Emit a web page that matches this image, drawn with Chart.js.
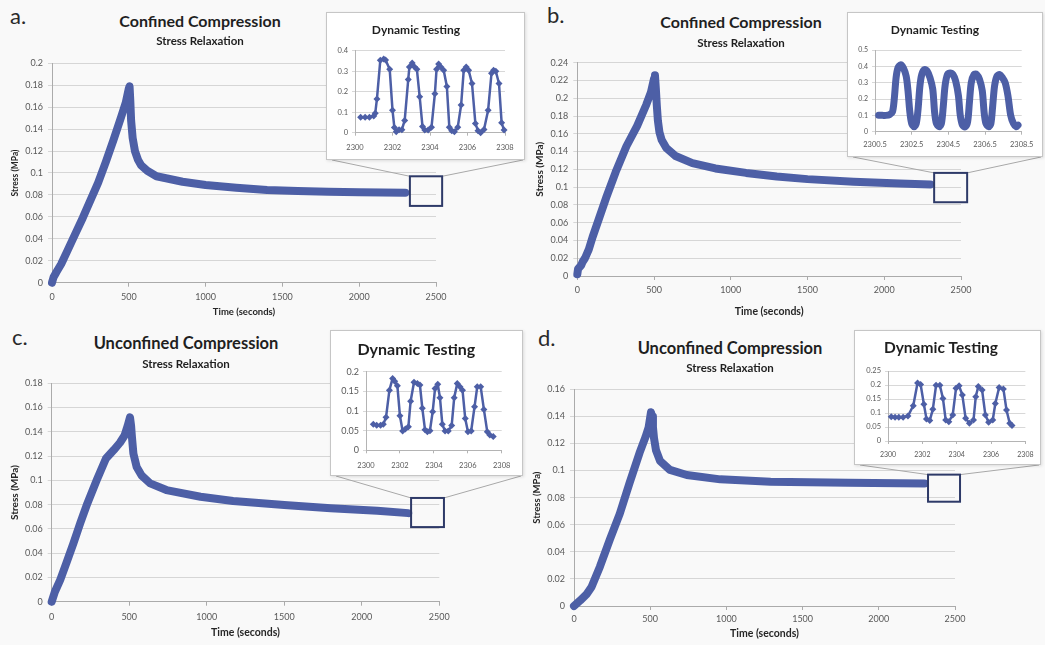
<!DOCTYPE html>
<html lang="en">
<head>
<meta charset="UTF-8">
<title>Confined / Unconfined Compression - Stress Relaxation and Dynamic Testing</title>
<script src="https://cdn.jsdelivr.net/npm/chart.js@4"></script>
<style>
  * { margin: 0; padding: 0; box-sizing: border-box; }
  body { width: 1045px; height: 645px; position: relative; overflow: hidden; background: #f9f9f9;
         font-family: Lato, 'Open Sans', sans-serif; }
  canvas { position: absolute; }
  .inset { position: absolute; background: #fff; border: 1px solid #c6c6c6; box-shadow: 1px 1px 3px rgba(0,0,0,0.12); }
  .txt { position: absolute; line-height: 1; white-space: nowrap; color: #1f1f1f; font-weight: 700; transform: translateX(-50%); }
  .letter { position: absolute; line-height: 1; font-size: 22px; color: #2a2a2a; }
</style>
</head>
<body>
<div class="letter" style="left:10px;top:4.5px">a.</div>
<div class="letter" style="left:547px;top:4px">b.</div>
<div class="letter" style="left:12px;top:325.5px">c.</div>
<div class="letter" style="left:538px;top:326.5px">d.</div>

<div class="txt" style="left:200px;top:12.5px;font-size:16px">Confined Compression</div>
<div class="txt" style="left:200px;top:34.8px;font-size:11.5px">Stress Relaxation</div>
<div class="txt" style="left:741px;top:14px;font-size:16px">Confined Compression</div>
<div class="txt" style="left:741px;top:36.5px;font-size:11.5px">Stress Relaxation</div>
<div class="txt" style="left:186px;top:334.7px;font-size:16.5px">Unconfined Compression</div>
<div class="txt" style="left:186px;top:357.5px;font-size:11.5px">Stress Relaxation</div>
<div class="txt" style="left:730px;top:340.4px;font-size:16.5px">Unconfined Compression</div>
<div class="txt" style="left:730px;top:362px;font-size:11.5px">Stress Relaxation</div>

<script>
// ---- stress relaxation (time in s, stress in MPa) ----
const timeA = [0, 10, 30, 60, 100, 150, 200, 250, 300, 350, 400, 450, 480, 500, 505, 510, 515, 525, 540, 560, 580, 620, 680, 750, 850, 1000, 1200, 1400, 1600, 1800, 2000, 2300];
const stressA = [0, 0.005, 0.010, 0.017, 0.029, 0.044, 0.059, 0.075, 0.091, 0.110, 0.130, 0.151, 0.164, 0.177, 0.179, 0.165, 0.148, 0.132, 0.120, 0.112, 0.107, 0.102, 0.097, 0.095, 0.092, 0.089, 0.0865, 0.0845, 0.0835, 0.083, 0.0825, 0.082];

const timeB = [0, 5, 15, 25, 35, 50, 75, 100, 140, 190, 250, 320, 390, 450, 480, 500, 506, 512, 518, 525, 535, 550, 580, 640, 750, 900, 1100, 1300, 1500, 1800, 2100, 2300];
const stressB = [0.002, 0.008, 0.010, 0.012, 0.016, 0.020, 0.030, 0.044, 0.064, 0.089, 0.117, 0.146, 0.169, 0.193, 0.207, 0.222, 0.226, 0.210, 0.192, 0.175, 0.162, 0.153, 0.144, 0.135, 0.127, 0.121, 0.116, 0.112, 0.109, 0.106, 0.104, 0.103];

const timeC = [0, 20, 55, 95, 140, 185, 230, 290, 350, 400, 440, 470, 490, 505, 512, 518, 527, 548, 580, 635, 740, 960, 1170, 1500, 1800, 2100, 2300];
const stressC = [0, 0.008, 0.018, 0.032, 0.048, 0.065, 0.081, 0.100, 0.118, 0.125, 0.131, 0.137, 0.145, 0.152, 0.145, 0.135, 0.122, 0.111, 0.104, 0.0975, 0.092, 0.0865, 0.083, 0.0797, 0.077, 0.075, 0.073];

const timeD = [0, 40, 85, 115, 170, 235, 300, 365, 430, 470, 490, 505, 512, 518, 525, 538, 565, 630, 740, 960, 1290, 1800, 2300];
const stressD = [0, 0.004, 0.009, 0.014, 0.029, 0.049, 0.068, 0.091, 0.113, 0.125, 0.132, 0.143, 0.140, 0.132, 0.124, 0.115, 0.107, 0.1005, 0.0967, 0.0935, 0.0918, 0.091, 0.0905];

// ---- dynamic testing insets ----
const dynTimeA = [2300.3, 2300.54, 2300.77, 2301.0, 2301.08, 2301.17, 2301.35, 2301.53, 2301.63, 2301.85, 2302.0, 2302.1, 2302.2, 2302.35, 2302.5, 2302.65, 2302.84, 2302.9, 2303.05, 2303.18, 2303.3, 2303.45, 2303.6, 2303.72, 2303.9, 2304.08, 2304.26, 2304.35, 2304.46, 2304.58, 2304.73, 2304.9, 2305.03, 2305.16, 2305.3, 2305.48, 2305.66, 2305.8, 2305.93, 2306.06, 2306.24, 2306.42, 2306.56, 2306.7, 2306.88, 2307.1, 2307.28, 2307.39, 2307.51, 2307.68, 2307.82, 2307.95];
const dynStressA = [0.075, 0.075, 0.075, 0.082, 0.095, 0.165, 0.354, 0.36, 0.355, 0.31, 0.11, 0.025, 0.005, 0.015, 0.015, 0.06, 0.26, 0.32, 0.34, 0.32, 0.31, 0.175, 0.03, 0.013, 0.013, 0.027, 0.19, 0.31, 0.335, 0.32, 0.305, 0.225, 0.027, 0.01, 0.005, 0.027, 0.135, 0.305, 0.32, 0.305, 0.24, 0.045, 0.01, 0.0, 0.016, 0.11, 0.29, 0.305, 0.3, 0.24, 0.048, 0.013];

const dynTimeB = [2300.7, 2300.9, 2301.1, 2301.3, 2301.45, 2301.55, 2301.65, 2301.75, 2301.9, 2302.05, 2302.2, 2302.3, 2302.4, 2302.5, 2302.63, 2302.75, 2302.85, 2302.95, 2303.05, 2303.2, 2303.35, 2303.5, 2303.65, 2303.75, 2303.85, 2304.0, 2304.12, 2304.22, 2304.32, 2304.45, 2304.6, 2304.75, 2304.9, 2305.05, 2305.15, 2305.27, 2305.42, 2305.55, 2305.65, 2305.75, 2305.9, 2306.05, 2306.2, 2306.35, 2306.45, 2306.55, 2306.7, 2306.82, 2306.92, 2307.02, 2307.15, 2307.3, 2307.45, 2307.6, 2307.75, 2307.9, 2308.05, 2308.2, 2308.3];
const dynStressB = [0.10, 0.10, 0.10, 0.105, 0.12, 0.2, 0.33, 0.39, 0.41, 0.39, 0.34, 0.25, 0.12, 0.05, 0.03, 0.05, 0.14, 0.28, 0.35, 0.38, 0.37, 0.33, 0.26, 0.12, 0.05, 0.03, 0.05, 0.15, 0.28, 0.35, 0.36, 0.35, 0.31, 0.22, 0.1, 0.04, 0.03, 0.06, 0.18, 0.3, 0.35, 0.35, 0.32, 0.25, 0.12, 0.05, 0.03, 0.05, 0.16, 0.28, 0.34, 0.35, 0.33, 0.3, 0.22, 0.1, 0.05, 0.03, 0.04];

const dynTimeC = [2300.43, 2300.63, 2300.86, 2301.02, 2301.18, 2301.38, 2301.57, 2301.69, 2301.85, 2302.0, 2302.16, 2302.32, 2302.5, 2302.63, 2302.83, 2303.03, 2303.18, 2303.32, 2303.48, 2303.62, 2303.77, 2303.93, 2304.07, 2304.23, 2304.36, 2304.5, 2304.66, 2304.85, 2305.05, 2305.2, 2305.38, 2305.54, 2305.69, 2305.85, 2306.01, 2306.2, 2306.4, 2306.56, 2306.76, 2306.95, 2307.15, 2307.3, 2307.5];
const dynStressC = [0.066, 0.064, 0.064, 0.066, 0.084, 0.153, 0.183, 0.176, 0.164, 0.088, 0.049, 0.054, 0.06, 0.125, 0.173, 0.17, 0.166, 0.107, 0.052, 0.047, 0.05, 0.098, 0.157, 0.168, 0.134, 0.066, 0.049, 0.049, 0.063, 0.134, 0.17, 0.162, 0.153, 0.081, 0.047, 0.049, 0.111, 0.162, 0.162, 0.104, 0.047, 0.039, 0.035];

const dynTimeD = [2300.19, 2300.41, 2300.63, 2300.88, 2301.16, 2301.47, 2301.72, 2301.9, 2302.09, 2302.24, 2302.43, 2302.61, 2302.8, 2303.02, 2303.2, 2303.36, 2303.54, 2303.77, 2303.96, 2304.14, 2304.33, 2304.52, 2304.74, 2304.98, 2305.11, 2305.26, 2305.48, 2305.67, 2305.86, 2306.1, 2306.25, 2306.47, 2306.72, 2306.9, 2307.09, 2307.22];
const dynStressD = [0.087, 0.085, 0.085, 0.085, 0.089, 0.126, 0.207, 0.202, 0.131, 0.079, 0.073, 0.113, 0.199, 0.199, 0.152, 0.075, 0.069, 0.093, 0.188, 0.197, 0.164, 0.081, 0.063, 0.075, 0.158, 0.195, 0.182, 0.093, 0.067, 0.075, 0.134, 0.191, 0.186, 0.111, 0.063, 0.055];

// ---- layout (page pixels) ----
const panels = [
  { time: timeA, stress: stressA, yMax: 0.2,
    canvas: { x: 0, y: 45, w: 530, h: 278 }, area: { l: 52, t: 63.3, r: 436, b: 282.7 },
    xTickY: 296, xTitleY: 312, xTitle: 9.5, yTitleX: 15, yTitle: 8.5,
    zoom: { t0: 2330, t1: 2540, s0: 0.070, s1: 0.097, inset: 'insetA' } },
  { time: timeB, stress: stressB, yMax: 0.24,
    canvas: { x: 522, y: 45, w: 523, h: 278 }, area: { l: 577.3, t: 62.7, r: 961, b: 276 },
    xTickY: 289.3, xTitleY: 311.7, xTitle: 10.5, yTitleX: 540, yTitle: 10,
    zoom: { t0: 2325, t1: 2540, s0: 0.083, s1: 0.116, inset: 'insetB' } },
  { time: timeC, stress: stressC, yMax: 0.18,
    canvas: { x: 0, y: 365, w: 530, h: 280 }, area: { l: 51.7, t: 383.3, r: 439.3, b: 601.7 },
    xTickY: 616, xTitleY: 633, xTitle: 10.5, yTitleX: 15, yTitle: 10,
    zoom: { t0: 2318, t1: 2530, s0: 0.0615, s1: 0.0855, inset: 'insetC' } },
  { time: timeD, stress: stressD, yMax: 0.16,
    canvas: { x: 522, y: 365, w: 523, h: 280 }, area: { l: 574, t: 389.3, r: 955, b: 606 },
    xTickY: 618, xTitleY: 634, xTitle: 10.5, yTitleX: 537, yTitle: 9.5,
    zoom: { t0: 2323, t1: 2533, s0: 0.077, s1: 0.097, inset: 'insetD' } }
];

const insets = [
  { id: 'insetA', time: dynTimeA, stress: dynStressA, xMin: 2300, xMax: 2308, yMax: 0.4, yStep: 0.1, thick: false,
    box: { x: 326, y: 12, w: 199, h: 148 }, area: { l: 355, t: 50.7, r: 505, b: 132.7 },
    titleY: 30, titleSize: 12, xTickY: 146.7, xFont: 7.5, yFont: 7.5 },
  { id: 'insetB', time: dynTimeB, stress: dynStressB, xMin: 2300.5, xMax: 2308.5, yMax: 0.5, yStep: 0.1, thick: true,
    box: { x: 847, y: 12, w: 196, h: 145 }, area: { l: 875, t: 50, r: 1021.7, b: 131.7 },
    titleY: 30, titleSize: 12, xTickY: 144, xFont: 7.5, yFont: 7 },
  { id: 'insetC', time: dynTimeC, stress: dynStressC, xMin: 2300, xMax: 2308, yMax: 0.2, yStep: 0.05, thick: false,
    box: { x: 330, y: 330, w: 193, h: 146 }, area: { l: 366, t: 371.7, r: 501.7, b: 450.3 },
    titleY: 350, titleSize: 16, xTickY: 465, xFont: 7.5, yFont: 9 },
  { id: 'insetD', time: dynTimeD, stress: dynStressD, xMin: 2300, xMax: 2308, yMax: 0.25, yStep: 0.05, thick: false,
    box: { x: 854, y: 330, w: 187, h: 135 }, area: { l: 888, t: 371, r: 1027, b: 441 },
    titleY: 348, titleSize: 15.5, xTickY: 454, xFont: 7, yFont: 7.5 }
];

const BLUE = '#4d5fa6';
Chart.defaults.font.family = "Lato, 'Open Sans', sans-serif";
Chart.defaults.color = '#595959';

const pts = (xs, ys) => xs.map((x, i) => ({ x, y: ys[i] }));
const fmt = v => String(+v.toFixed(3));

// zoom window on the main chart plus the callout lines to its inset
const zoomBox = {
  id: 'zoomBox',
  afterDraw(chart, args, o) {
    const { x, y } = chart.scales;
    const ctx = chart.ctx;
    const l = x.getPixelForValue(o.t0), r = x.getPixelForValue(o.t1);
    const t = y.getPixelForValue(o.s1), b = y.getPixelForValue(o.s0);
    const cr = chart.canvas.getBoundingClientRect();
    const ir = document.getElementById(o.inset).getBoundingClientRect();
    ctx.save();
    ctx.strokeStyle = '#a8a8a8';
    ctx.lineWidth = 1;
    ctx.beginPath();
    ctx.moveTo(ir.left - cr.left + 6, ir.bottom - cr.top);
    ctx.lineTo(l, t);
    ctx.moveTo(ir.right - cr.left - 2, ir.bottom - cr.top);
    ctx.lineTo(r, t);
    ctx.stroke();
    ctx.strokeStyle = '#2e3a68';
    ctx.lineWidth = 2;
    ctx.strokeRect(l, t, r - l, b - t);
    ctx.restore();
  }
};

function makeInset(p) {
  const box = document.createElement('div');
  box.className = 'inset';
  box.id = p.id;
  box.style.cssText = `left:${p.box.x}px;top:${p.box.y}px;width:${p.box.w}px;height:${p.box.h}px;`;
  document.body.appendChild(box);

  const cx = p.box.x + 1, cy = p.box.y + 1, cw = p.box.w - 2, ch = p.box.h - 2;
  const cv = document.createElement('canvas');
  cv.width = cw; cv.height = ch;
  cv.style.cssText = 'left:0;top:0;';
  box.appendChild(cv);

  const lh = p.titleSize * 1.2;
  const padTop = p.titleY - cy - lh / 2;
  const a = p.area;

  new Chart(cv, {
    type: 'line',
    data: {
      datasets: [{
        data: pts(p.time, p.stress),
        borderColor: BLUE, backgroundColor: BLUE,
        borderWidth: p.thick ? 7 : 2.5,
        tension: p.thick ? 0.3 : 0,
        borderJoinStyle: 'round', borderCapStyle: 'round',
        pointStyle: 'rectRot', pointRadius: p.thick ? 0 : 3.5, pointBorderWidth: 0,
        clip: 6
      }]
    },
    options: {
      responsive: false, animation: false, devicePixelRatio: 1,
      layout: { padding: { left: 0, top: 0, right: cx + cw - a.r, bottom: 0 } },
      plugins: {
        legend: { display: false }, tooltip: { enabled: false },
        title: { display: true, text: 'Dynamic Testing', color: '#1f1f1f',
                 font: { size: p.titleSize, weight: 'bold' },
                 padding: { top: padTop, bottom: a.t - cy - padTop - lh } }
      },
      scales: {
        x: { type: 'linear', min: p.xMin, max: p.xMax,
             ticks: { stepSize: 2, callback: fmt, autoSkip: false, maxRotation: 0, font: { size: p.xFont },
                      padding: p.xTickY - a.b - 3 - p.xFont / 2 },
             grid: { drawOnChartArea: false, tickLength: 3, color: '#b4b4b4' },
             border: { color: '#b4b4b4' },
             afterFit: s => { s.height = cy + ch - a.b; } },
        y: { min: 0, max: p.yMax,
             ticks: { stepSize: p.yStep, callback: fmt, font: { size: p.yFont }, padding: 4 },
             grid: { color: '#d8d8d8', tickLength: 3 },
             border: { color: '#b4b4b4' },
             afterFit: s => { s.width = a.l - cx; } }
      }
    }
  });
}

function makeMain(p) {
  const c = p.canvas, a = p.area;
  const cv = document.createElement('canvas');
  cv.width = c.w; cv.height = c.h;
  cv.style.cssText = `left:${c.x}px;top:${c.y}px;`;
  document.body.insertBefore(cv, document.body.firstChild);

  const xlh = p.xTitle * 1.2, ylh = p.yTitle * 1.2;
  new Chart(cv, {
    type: 'line',
    data: {
      datasets: [{
        data: pts(p.time, p.stress),
        borderColor: BLUE, borderWidth: 8, pointRadius: 0, tension: 0,
        borderJoinStyle: 'round', borderCapStyle: 'round', clip: 8
      }]
    },
    options: {
      responsive: false, animation: false, devicePixelRatio: 1,
      layout: { padding: { left: 0, top: a.t - c.y, right: c.x + c.w - a.r, bottom: 0 } },
      plugins: { legend: { display: false }, tooltip: { enabled: false }, zoomBox: p.zoom },
      scales: {
        x: { type: 'linear', min: 0, max: 2500,
             ticks: { stepSize: 500, callback: fmt, maxRotation: 0, font: { size: 9 },
                      padding: p.xTickY - a.b - 4 - 4.5 },
             grid: { drawOnChartArea: false, tickLength: 4, color: '#ababab' },
             border: { color: '#ababab' },
             title: { display: true, text: 'Time (seconds)', color: '#262626',
                      font: { size: p.xTitle, weight: 'bold' },
                      padding: { top: 0, bottom: c.y + c.h - p.xTitleY - xlh / 2 } },
             afterFit: s => { s.height = c.y + c.h - a.b; } },
        y: { min: 0, max: p.yMax,
             ticks: { stepSize: 0.02, callback: fmt, font: { size: 9 }, padding: 5 },
             grid: { color: '#d6d6d6', tickLength: 4 },
             border: { color: '#ababab' },
             title: { display: true, text: 'Stress (MPa)', color: '#262626',
                      font: { size: p.yTitle, weight: 'bold' },
                      padding: { top: p.yTitleX - c.x - ylh / 2, bottom: 0 } },
             afterFit: s => { s.width = a.l - c.x; } }
      }
    },
    plugins: [zoomBox]
  });
}

insets.forEach(makeInset);
panels.forEach(makeMain);
</script>
</body>
</html>
